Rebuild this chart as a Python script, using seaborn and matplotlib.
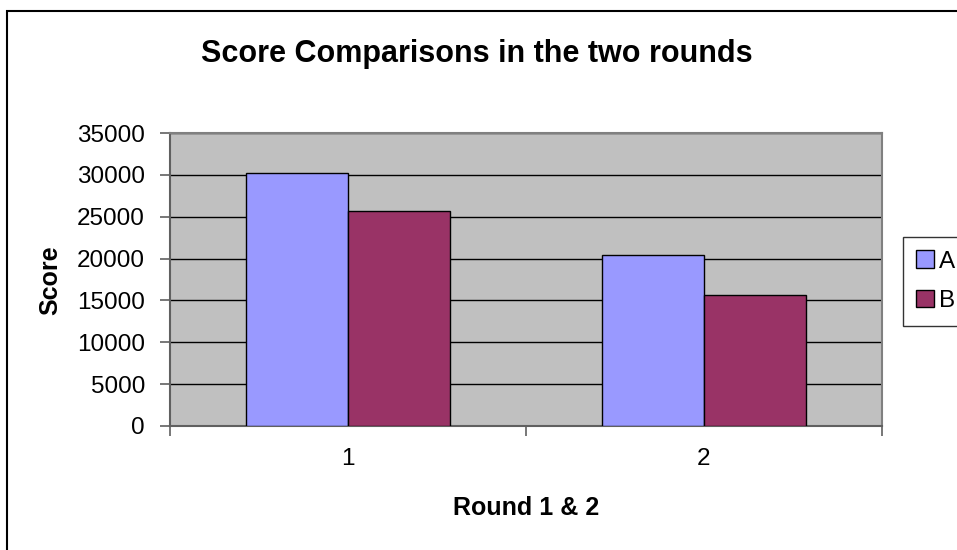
import matplotlib
matplotlib.use("Agg")
import matplotlib.pyplot as plt
from matplotlib.patches import Rectangle, Patch
import pandas as pd
import seaborn as sns

# Scores per round for the two players
rounds = ["1", "2"]
players = ["A", "B"]
scores_a = [30200, 20400]
scores_b = [25700, 15600]
y_ticks = [0, 5000, 10000, 15000, 20000, 25000, 30000, 35000]

colors = {"A": "#9999FF", "B": "#993366"}

df = pd.DataFrame({
    "Round": rounds * 2,
    "Player": ["A"] * len(rounds) + ["B"] * len(rounds),
    "Score": scores_a + scores_b,
})

sns.set_theme(style="white")
plt.rcParams["font.family"] = ["Liberation Sans", "DejaVu Sans"]
plt.rcParams["text.color"] = "black"
plt.rcParams["axes.labelcolor"] = "black"
plt.rcParams["xtick.color"] = "black"
plt.rcParams["ytick.color"] = "black"

W, H = 957, 550
fig = plt.figure(figsize=(W / 100, H / 100), dpi=100)
fig.patch.set_facecolor("white")

left, right, top, bottom = 170, 882, 133, 426
ax = fig.add_axes([left / W, 1 - bottom / H, (right - left) / W, (bottom - top) / H])
ax.set_facecolor("#C0C0C0")

sns.barplot(data=df, x="Round", y="Score", hue="Player", hue_order=players,
            palette=colors, width=0.573, edgecolor="black", linewidth=1,
            saturation=1, ax=ax, legend=False, zorder=3)

ax.set_xlim(-0.5, 1.5)
ax.set_ylim(0, 35000)
ax.set_yticks(y_ticks)
ax.set_yticklabels([str(v) for v in y_ticks], fontsize=17.5, color="black")
for v in y_ticks[1:]:
    ax.axhline(v, color="black", lw=1, zorder=1)

ax.set_xticks([0, 1])
ax.set_xticklabels(rounds, fontsize=17.5, color="black")
ax.set_xticks([-0.5, 0.5, 1.5], minor=True)
ax.tick_params(axis="x", which="major", length=0, pad=16)
ax.tick_params(axis="x", which="minor", direction="out", length=7, width=1.2,
               color="#606060", bottom=True)
ax.tick_params(axis="y", direction="out", length=7, width=1.2, color="#606060",
               pad=11, left=True)

for side, sp in ax.spines.items():
    sp.set_visible(True)
    sp.set_color("#808080")
    sp.set_linewidth(1.5)
ax.spines["left"].set_color("#606060")
ax.spines["bottom"].set_color("#606060")

ax.set_xlabel("")
ax.set_ylabel("")

fig.text(477 / W, 1 - 54 / H, "Score Comparisons in the two rounds",
         fontsize=22, fontweight="bold", ha="center", va="center", color="black")
fig.text(50 / W, 1 - 280 / H, "Score", fontsize=18, fontweight="bold",
         rotation=90, ha="center", va="center", color="black")
fig.text(526 / W, 1 - 508 / H, "Round 1 & 2", fontsize=18, fontweight="bold",
         ha="center", va="center", color="black")

handles = [Patch(facecolor=colors[p], edgecolor="black", linewidth=1) for p in players]
leg = fig.legend(handles, players, loc="upper left",
                 bbox_to_anchor=(903 / W, 1 - 237 / H), fontsize=17.5,
                 frameon=True, fancybox=False, handlelength=0.72,
                 handleheight=0.72, handletextpad=0.2, labelspacing=0.72,
                 borderpad=0.55, borderaxespad=0)
leg.get_frame().set_edgecolor("black")
leg.get_frame().set_linewidth(1)
for t in leg.get_texts():
    t.set_color("black")

# outer chart border, running off the right and bottom edges
fig.patches.append(Rectangle((7.5 / W, -0.1), 1.2, 1 - 11 / H + 0.1,
                             transform=fig.transFigure, fill=False,
                             edgecolor="black", linewidth=1.5))

fig.savefig("out.png", dpi=100)
